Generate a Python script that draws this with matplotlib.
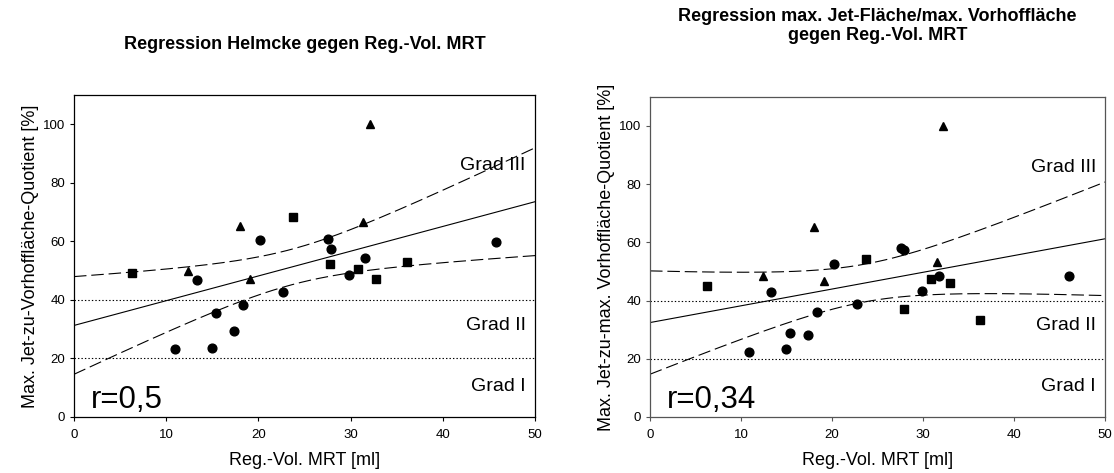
import numpy as np
import matplotlib
matplotlib.use("Agg")
import matplotlib.pyplot as plt

plt.rcParams['font.family'] = ['Liberation Sans', 'DejaVu Sans']
plt.rcParams['lines.scale_dashes'] = False

# Left panel: Helmcke quotient vs regurgitation volume
l_circ_x = [10.95, 13.3, 14.95, 15.4, 17.4, 18.3, 20.2, 22.7, 27.6, 27.9, 29.8, 31.6, 45.8]
l_circ_y = [23.3, 46.7, 23.4, 35.6, 29.4, 38.2, 60.5, 42.6, 60.7, 57.2, 48.4, 54.4, 59.8]
l_sq_x = [6.3, 23.7, 27.8, 30.85, 32.8, 36.1]
l_sq_y = [49.0, 68.2, 52.2, 50.4, 47.1, 52.9]
l_tri_x = [12.4, 18.05, 19.1, 31.35, 32.1]
l_tri_y = [49.8, 65.2, 47.0, 66.6, 100.0]

# Right panel: max. jet area / max. atrial area vs regurgitation volume
r_circ_x = [10.9, 13.3, 14.9, 15.4, 17.4, 18.3, 20.25, 22.75, 27.6, 27.95, 29.9, 31.8, 46.0]
r_circ_y = [22.2, 42.8, 23.3, 28.8, 28.3, 36.2, 52.6, 38.7, 58.2, 57.2, 43.3, 48.6, 48.6]
r_sq_x = [6.3, 23.7, 27.9, 30.9, 33.0, 36.3]
r_sq_y = [45.0, 54.2, 37.0, 47.3, 45.9, 33.4]
r_tri_x = [12.4, 18.0, 19.1, 31.5, 32.2]
r_tri_y = [48.6, 65.1, 46.8, 53.2, 100.0]

grade_lines = [20, 40]
grade_labels = ['Grad I', 'Grad II', 'Grad III']
grade_label_y = [10.4, 31.3, 85.8]

T95 = 2.074  # t quantile, df = 22


def panel(ax, cx, cy, sx, sy, tx, ty, r_text, title, ylabel, frame_col, tpad):
    x = np.array(cx + sx + tx)
    y = np.array(cy + sy + ty)
    n = len(x)
    b, a = np.polyfit(x, y, 1)
    xs = np.linspace(0, 50, 200)
    fit = a + b * xs
    resid = y - (a + b * x)
    s = np.sqrt(np.sum(resid ** 2) / (n - 2))
    se = s * np.sqrt(1.0 / n + (xs - x.mean()) ** 2 / np.sum((x - x.mean()) ** 2))

    for g in grade_lines:
        ax.axhline(g, color='black', lw=0.8, ls=(0, (1, 1.5)), zorder=1)
    ax.plot(xs, fit, color='black', lw=0.8, zorder=2)
    ax.plot(xs, fit + T95 * se, color='black', lw=0.8, dashes=(9, 3.5), zorder=2)
    ax.plot(xs, fit - T95 * se, color='black', lw=0.8, dashes=(9, 3.5), zorder=2)

    ax.plot(cx, cy, 'o', color='black', ms=6.3, ls='none', zorder=3)
    ax.plot(sx, sy, 's', color='black', ms=5.2, ls='none', zorder=3)
    ax.plot(tx, ty, '^', color='black', ms=5.8, ls='none', zorder=3)

    for lab, gy in zip(grade_labels, grade_label_y):
        ax.text(49.0, gy, lab, ha='right', va='center', fontsize=14)
    ax.text(1.8, 3.0, r_text, fontsize=22.5, ha='left', va='baseline')

    ax.set_xlim(0, 50)
    ax.set_ylim(0, 110)
    ax.set_xticks(range(0, 51, 10))
    ax.set_yticks(range(0, 101, 20))
    ax.tick_params(direction='out', length=3, width=0.8, labelsize=9.5,
                   color=frame_col, top=False, right=False)
    ax.tick_params(axis='x', pad=5.5)
    for sp in ax.spines.values():
        sp.set_color(frame_col)
        sp.set_linewidth(0.9)
    ax.set_xlabel('Reg.-Vol. MRT [ml]', fontsize=13, labelpad=8)
    ax.set_ylabel(ylabel, fontsize=13, labelpad=3)
    ax.set_title(title, fontsize=13, fontweight='bold', pad=tpad, linespacing=1.15)


fig = plt.figure(figsize=(11.14, 4.73), dpi=100)
ax1 = fig.add_axes([0.0664, 0.119, 0.4139, 0.680])
ax2 = fig.add_axes([0.5835, 0.1184, 0.4084, 0.677])

panel(ax1, l_circ_x, l_circ_y, l_sq_x, l_sq_y, l_tri_x, l_tri_y, 'r=0,5',
      'Regression Helmcke gegen Reg.-Vol. MRT',
      'Max. Jet-zu-Vorhoffläche-Quotient [%]', 'black', 33)
panel(ax2, r_circ_x, r_circ_y, r_sq_x, r_sq_y, r_tri_x, r_tri_y, 'r=0,34',
      'Regression max. Jet-Fläche/max. Vorhoffläche\ngegen Reg.-Vol. MRT',
      'Max. Jet-zu-max. Vorhoffläche-Quotient [%]', '#555555', 41)

fig.savefig('out.png', dpi=100)
